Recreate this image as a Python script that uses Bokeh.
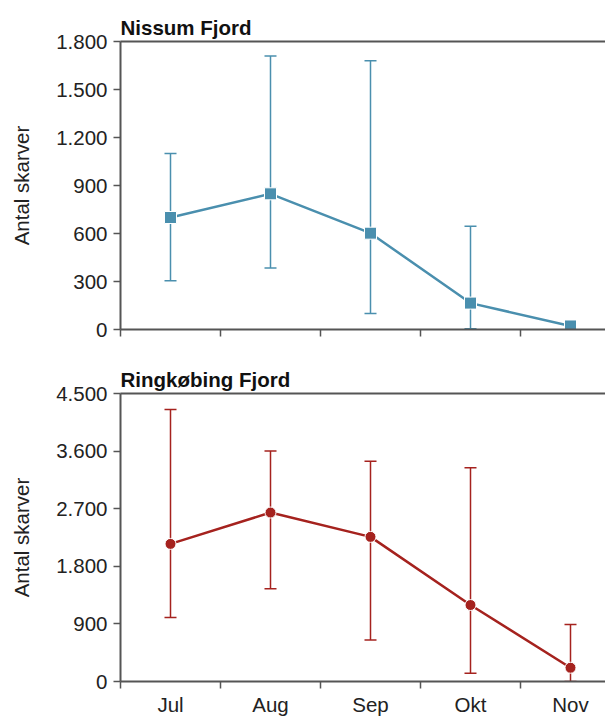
from bokeh.plotting import figure
from bokeh.models import ColumnDataSource, Whisker, TeeHead, FixedTicker, LinearAxis, Range1d
from bokeh.layouts import column
from bokeh.embed import file_html
from bokeh.resources import INLINE

months = ["Jul", "Aug", "Sep", "Okt", "Nov"]

nissum_mean = [700, 848, 602, 165, 22]
nissum_low = [305, 385, 100, 5, 8]
nissum_high = [1100, 1710, 1680, 645, 40]

ring_mean = [2150, 2640, 2260, 1195, 215]
ring_low = [1000, 1450, 650, 130, 0]
ring_high = [4250, 3600, 3440, 3340, 890]

nissum_ticks = [0, 300, 600, 900, 1200, 1500, 1800]
nissum_tick_labels = ["0", "300", "600", "900", "1.200", "1.500", "1.800"]
ring_ticks = [0, 900, 1800, 2700, 3600, 4500]
ring_tick_labels = ["0", "900", "1.800", "2.700", "3.600", "4.500"]

FONT = "Liberation Sans"
FS = "20.5px"
AXIS_COLOR = "#555555"
TEXT_COLOR = "#222222"


def make_panel(title, mean, low, high, ticks, tick_labels, color, marker,
               show_x_labels, border_top, border_bottom):
    xs = list(range(len(months)))
    p = figure(frame_width=485, frame_height=288,
               output_backend="svg", toolbar_location=None,
               x_range=Range1d(-0.5, len(months) - 0.65),
               y_range=Range1d(ticks[0], ticks[-1]),
               min_border_left=120, min_border_right=0,
               min_border_top=border_top, min_border_bottom=border_bottom,
               outline_line_color=None)
    p.grid.visible = False
    p.background_fill_color = "white"
    p.border_fill_color = "white"

    p.title.text = title
    p.title.text_font = FONT
    p.title.text_font_size = FS
    p.title.text_font_style = "bold"
    p.title.text_color = "#111111"
    p.title.align = "left"
    p.title.standoff = 5

    # y axis
    yax = p.yaxis[0]
    yax.ticker = FixedTicker(ticks=ticks)
    yax.major_label_overrides = {t: l for t, l in zip(ticks, tick_labels)}
    yax.axis_label = "Antal skarver"
    yax.axis_label_text_font = FONT
    yax.axis_label_text_font_size = FS
    yax.axis_label_text_font_style = "normal"
    yax.axis_label_text_color = TEXT_COLOR
    yax.axis_label_standoff = 20
    yax.major_label_text_font = FONT
    yax.major_label_text_font_size = FS
    yax.major_label_text_color = TEXT_COLOR
    yax.major_label_standoff = 6
    yax.major_tick_out = 7
    yax.major_tick_in = 0
    yax.minor_tick_out = 0
    yax.minor_tick_in = 0
    yax.axis_line_color = AXIS_COLOR
    yax.axis_line_width = 2
    yax.major_tick_line_color = AXIS_COLOR
    yax.major_tick_line_width = 1.5

    # x axis: labels at category centres, ticks at boundaries
    xax = p.xaxis[0]
    boundaries = [x - 0.5 for x in xs]
    if show_x_labels:
        xax.ticker = FixedTicker(ticks=xs, minor_ticks=boundaries)
        xax.major_label_overrides = {x: m for x, m in zip(xs, months)}
    else:
        xax.ticker = FixedTicker(ticks=[], minor_ticks=boundaries)
    xax.major_tick_out = 0
    xax.major_tick_in = 0
    xax.minor_tick_out = 7
    xax.minor_tick_in = 0
    xax.minor_tick_line_color = AXIS_COLOR
    xax.minor_tick_line_width = 1.5
    xax.axis_line_color = AXIS_COLOR
    xax.axis_line_width = 2
    xax.major_label_text_font = FONT
    xax.major_label_text_color = TEXT_COLOR
    xax.major_label_text_font_size = FS
    xax.major_label_standoff = 4

    # top border line
    top = LinearAxis(ticker=FixedTicker(ticks=[]),
                     major_label_standoff=0, major_tick_out=0, major_tick_in=0,
                     minor_tick_out=0, minor_tick_in=0,
                     axis_line_color=AXIS_COLOR, axis_line_width=2)
    p.add_layout(top, "above")

    src = ColumnDataSource(dict(x=xs, mean=mean, low=low, high=high))
    w = Whisker(base="x", upper="high", lower="low", source=src, dimension="height",
                line_color=color, line_width=1.5,
                upper_head=TeeHead(size=12, line_color=color, line_width=1.5),
                lower_head=TeeHead(size=12, line_color=color, line_width=1.5))
    p.add_layout(w)
    p.line("x", "mean", source=src, line_color=color, line_width=2.5)
    p.scatter("x", "mean", source=src, marker=marker, size=12 if marker == "square" else 11,
              fill_color=color, line_color="white", line_width=1)
    return p


p1 = make_panel("Nissum Fjord", nissum_mean, nissum_low, nissum_high,
                nissum_ticks, nissum_tick_labels, "#4A8FAE", "square",
                False, 41, 16)
p2 = make_panel("Ringkøbing Fjord", ring_mean, ring_low, ring_high,
                ring_ticks, ring_tick_labels, "#A5221E", "circle",
                True, 48, 20)

layout = column(p1, p2, spacing=0)
open("out.html", "w").write(file_html(layout, INLINE))
